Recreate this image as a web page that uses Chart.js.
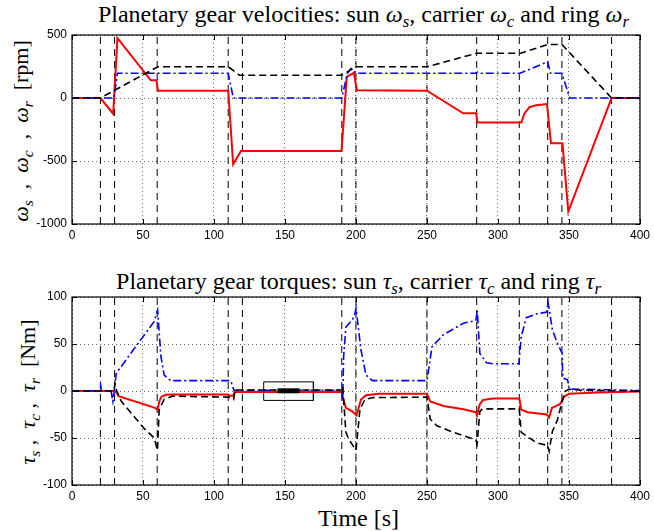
<!DOCTYPE html>
<html>
<head>
<meta charset="utf-8">
<script src="https://cdn.jsdelivr.net/npm/chart.js@4.4.0/dist/chart.umd.min.js"></script>
<style>
  body { margin: 0; background: #fff; }
  #wrap { position: relative; width: 654px; height: 531px; overflow: hidden; font-family: 'Liberation Serif', 'Times New Roman', serif; color: #000; }
  canvas { position: absolute; left: 0; }
  .ttl { position: absolute; left: 72px; width: 573px; text-align: center; font-size: 24px; white-space: nowrap; line-height: 1; }
  .ylab { position: absolute; font-size: 22px; white-space: nowrap; line-height: 1; transform: translate(-50%, -50%) rotate(-90deg); }
  sub { font-size: 70%; vertical-align: -0.3em; line-height: 0; }
</style>
</head>
<body>
<div id="wrap">
  <div class="ttl" style="top:2px; left:77px">Planetary gear velocities: sun <i>ω<sub>s</sub></i>, carrier <i>ω<sub>c</sub></i> and ring <i>ω<sub>r</sub></i></div>
  <div class="ylab" style="left:21px; top:131px"><i>ω<sub>s</sub></i>&ensp;,&ensp;<i>ω<sub>c</sub></i>&ensp;,&ensp;<i>ω<sub>r</sub></i>&ensp;[rpm]</div>
  <canvas id="velChart" width="654" height="250" style="top:0"></canvas>

  <div class="ttl" style="top:269px">Planetary gear torques: sun <i>τ<sub>s</sub></i>, carrier <i>τ<sub>c</sub></i> and ring <i>τ<sub>r</sub></i></div>
  <div class="ylab" style="left:28px; top:392px"><i>τ<sub>s</sub></i>&nbsp;,&ensp;<i>τ<sub>c</sub></i>&nbsp;,&ensp;<i>τ<sub>r</sub></i>&ensp;[Nm]</div>
  <canvas id="torqueChart" width="654" height="240" style="top:265px"></canvas>

  <div class="ttl" style="top:506px">Time [s]</div>
</div>

<script>
// instantes de cambio de modo (lineas verticales discontinuas)
const eventTimes = [20, 30, 60, 110, 120, 190, 200, 250, 285, 315, 335, 345, 380];

const xTicks = [0, 50, 100, 150, 200, 250, 300, 350, 400];
const velTicks = [-1000, -500, 0, 500];
const torqueTicks = [-100, -50, 0, 50, 100];

// velocidades [rpm]
const tSunVel = [0, 20, 29, 32, 55.5, 59.5, 60.5, 110, 113.5, 119, 189.8, 193.5, 198.5, 200.6, 250, 275.5, 284.6, 285.5, 316.4, 318.7, 322.2, 326.9, 334.5, 337.3, 345.4, 349.5, 380, 400];
const sunVel = [0, 0, -125, 475, 140, 140, 58, 58, -526, -420, -420, 168, 200, 62, 58, -122, -122, -195, -195, -122, -72, -57, -48, -360, -360, -902, 0, 0];

const tCarrierVel = [0, 20, 60.5, 110, 118, 190, 200, 250, 285, 316, 335, 345, 380, 400];
const carrierVel = [0, 0, 248, 248, 181, 181, 248, 248, 355, 355, 425, 425, 0, 0];

const tRingVel = [0, 29.5, 32, 110, 113.6, 190, 194, 196.5, 200, 284, 285.5, 287, 315.5, 335, 337, 345, 350.5, 400];
const ringVel = [0, 0, 196, 196, 0, 0, 196, 235, 196, 196, 205, 196, 196, 287, 196, 196, 0, 0];

// pares [Nm]
const tSunTq = [0, 30, 31.6, 32.8, 58.5, 60.3, 61.5, 63, 66, 70, 110, 111, 113.5, 114.5, 190, 190.5, 192.9, 197.6, 200.4, 203.5, 207, 216, 250, 252.3, 261.6, 275.6, 284.4, 285.2, 287.2, 289.5, 296.5, 315, 316.4, 321, 334.4, 336, 338, 343.6, 345.3, 346.5, 350, 370, 400];
const sunTq = [0, 0, -2, -5.5, -18, -20, -11, -6, -4, -3.7, -3.7, -5, -5, -1, -1, -5.5, -18, -22, -26, -9, -4.4, -2.8, -2.8, -11, -16, -19.5, -22.5, -26, -14, -9.6, -8, -8, -20, -22.5, -25, -28, -18, -14, -10, -6, -3, -1.5, -0.5];

const tCarrierTq = [0, 29.5, 30.3, 31.5, 34.7, 50.9, 57.9, 60.2, 61.4, 64.9, 70.7, 110.3, 113.8, 115, 190, 190.6, 192.9, 194.8, 200, 202.8, 206.3, 212, 250, 252.3, 257, 268.6, 284.4, 285.3, 287.2, 289, 296.5, 315, 316.4, 326.9, 335, 336, 338.3, 341.8, 345.3, 347.6, 350, 360, 400];
const carrierTq = [0, 0, 8, 0, -11, -40, -50, -63, -19.5, -9, -5.5, -6.5, -9, 1, 1, 5, -44, -51, -63, -19.5, -9, -7, -6.5, -30, -37, -44, -52, -56, -22, -19, -19, -19, -44, -55, -58, -64, -43, -31, -10, 0, 1.8, 0.8, 0];

const tRingTq = [0, 19.6, 20.2, 20.8, 27.5, 28.8, 31.2, 57.9, 60.3, 62.6, 64.9, 69.5, 111.5, 112, 114, 190, 190.6, 191.3, 192.9, 196.4, 198.8, 200, 203.5, 207, 211.6, 250, 253.5, 261.6, 275.6, 284.4, 285.4, 287.2, 291.9, 296.5, 314.7, 316.4, 319.9, 326.9, 334.4, 335.2, 338.3, 341.8, 345.2, 345.6, 349, 350.2, 370, 400];
const ringTq = [0, 0, 6, 0, 0, -11, 19, 74, 86, 37, 17, 11, 11, 10, 0.8, 0.8, -9, 37, 68, 74, 79, 88, 44, 17, 11, 11, 47, 60, 72, 75, 86, 40, 30, 29, 29, 58, 78, 82, 84, 95, 65, 51, 40, 14, 12, 2, 1.5, 0.5];

// recuadro y marca de la zona de detalle
const boxT = [135, 170, 170, 135, 135];
const boxV = [9.7, 9.7, -10, -10, 9.7];
const markT = [144.7, 160.3];
const markV = [0.2, 0.2];

const toPoints = (ts, vs) => ts.map((t, i) => ({ x: t, y: vs[i] }));

const RED = '#ff0000';
const BLUE = '#0000ff';
const BLACK = '#000000';

// marco tipo MATLAB con marcas hacia dentro
const framePlugin = {
  id: 'frame',
  afterDraw(chart) {
    const { ctx, chartArea: a, scales } = chart;
    ctx.save();
    ctx.strokeStyle = '#000';
    ctx.lineWidth = 1.2;
    ctx.setLineDash([]);
    ctx.strokeRect(a.left, a.top, a.right - a.left, a.bottom - a.top);
    ctx.lineWidth = 1;
    ctx.beginPath();
    scales.x.ticks.forEach(t => {
      const px = Math.round(scales.x.getPixelForValue(t.value)) + 0.5;
      ctx.moveTo(px, a.bottom); ctx.lineTo(px, a.bottom - 5);
      ctx.moveTo(px, a.top); ctx.lineTo(px, a.top + 5);
    });
    scales.y.ticks.forEach(t => {
      const py = Math.round(scales.y.getPixelForValue(t.value)) + 0.5;
      ctx.moveTo(a.left, py); ctx.lineTo(a.left + 5, py);
      ctx.moveTo(a.right, py); ctx.lineTo(a.right - 5, py);
    });
    ctx.stroke();
    ctx.restore();
  }
};

function eventDatasets(yMin, yMax) {
  return eventTimes.map(t => ({
    data: [{ x: t, y: yMin }, { x: t, y: yMax }],
    borderColor: BLACK,
    borderWidth: 1,
    borderDash: [7, 5],
    order: 10
  }));
}

function makeOptions(yTicks, yMin, yMax, padTop, xHeight) {
  const tickFont = { family: "'Liberation Sans', Arial, sans-serif", size: 12 };
  return {
    responsive: false,
    animation: false,
    layout: { padding: { top: padTop, right: 9, left: 0, bottom: 0 } },
    plugins: { legend: { display: false }, tooltip: { enabled: false }, title: { display: false } },
    elements: { point: { radius: 0 }, line: { tension: 0, fill: false } },
    scales: {
      x: {
        type: 'linear', min: 0, max: 400,
        afterBuildTicks: s => { s.ticks = xTicks.map(v => ({ value: v })); },
        afterFit: s => { s.height = xHeight; },
        grid: { color: 'rgba(0,0,0,0.6)', lineWidth: 1, drawTicks: false },
        border: { display: false, dash: [1, 3] },
        ticks: { padding: 4, color: '#000', font: tickFont, callback: v => String(v), maxRotation: 0 }
      },
      y: {
        min: yMin, max: yMax,
        afterBuildTicks: s => { s.ticks = yTicks.map(v => ({ value: v })); },
        afterFit: s => { s.width = 72; },
        grid: { color: 'rgba(0,0,0,0.6)', lineWidth: 1, drawTicks: false },
        border: { display: false, dash: [1, 3] },
        ticks: { padding: 5, color: '#000', font: tickFont, callback: v => String(v) }
      }
    }
  };
}

new Chart(document.getElementById('velChart'), {
  type: 'line',
  data: {
    datasets: [
      { data: toPoints(tCarrierVel, carrierVel), borderColor: BLACK, borderWidth: 1.6, borderDash: [7, 4], order: 0 },
      { data: toPoints(tRingVel, ringVel), borderColor: BLUE, borderWidth: 1.6, borderDash: [8, 3, 2, 3], order: 1 },
      { data: toPoints(tSunVel, sunVel), borderColor: RED, borderWidth: 2, order: 2 },
      ...eventDatasets(-1000, 500)
    ]
  },
  options: makeOptions(velTicks, -1000, 500, 35, 26),
  plugins: [framePlugin]
});

new Chart(document.getElementById('torqueChart'), {
  type: 'line',
  data: {
    datasets: [
      { data: toPoints(markT, markV), borderColor: BLACK, borderWidth: 5, order: 0 },
      { data: toPoints(boxT, boxV), borderColor: BLACK, borderWidth: 1, order: 0 },
      { data: toPoints(tCarrierTq, carrierTq), borderColor: BLACK, borderWidth: 1.6, borderDash: [7, 4], order: 1 },
      { data: toPoints(tRingTq, ringTq), borderColor: BLUE, borderWidth: 1.6, borderDash: [8, 3, 2, 3], order: 2 },
      { data: toPoints(tSunTq, sunTq), borderColor: RED, borderWidth: 2, order: 3 },
      ...eventDatasets(-100, 100)
    ]
  },
  options: makeOptions(torqueTicks, -100, 100, 32, 20),
  plugins: [framePlugin]
});
</script>
</body>
</html>
